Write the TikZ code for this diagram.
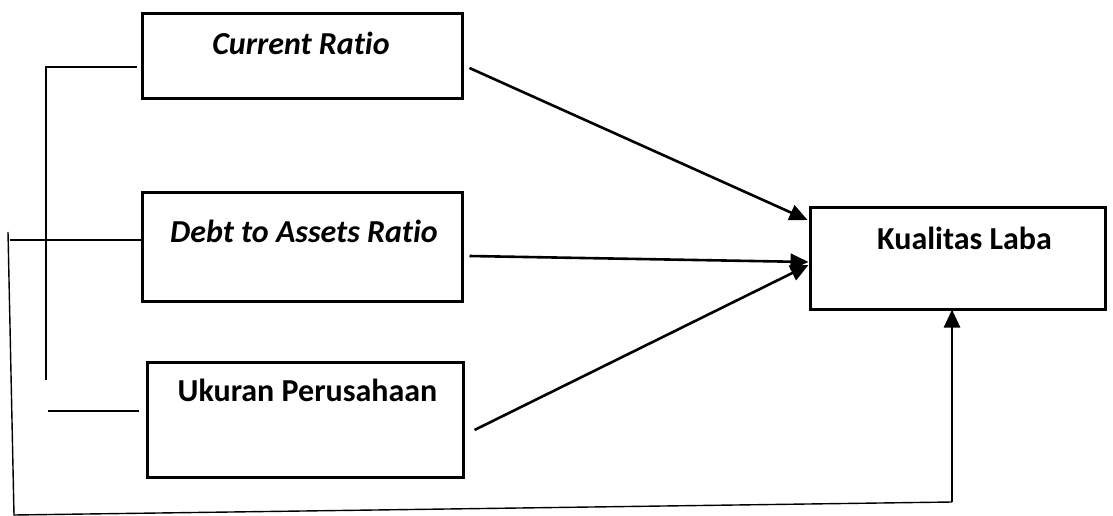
\documentclass[tikz,border=0pt]{standalone}
\usepackage{fontspec}
\setmainfont{Carlito}[Ligatures=NoCommon]
\usetikzlibrary{arrows.meta,calc}
\begin{document}
\begin{tikzpicture}[x=1pt,y=-1pt,
  box/.style={draw,line width=3pt,inner sep=0pt},
  lbl/.style={font=\fontsize{32}{38}\selectfont\bfseries,inner sep=0pt,anchor=base},
  thin/.style={line width=1.4pt},
  arr/.style={line width=2.6pt,-{Triangle[length=18pt,width=16pt]}}]
\useasboundingbox (0,0) rectangle (1113,516);
\node[box,minimum width=320pt,minimum height=85pt] (cr) at (302,56.5) {};
\node[box,minimum width=320pt,minimum height=109pt] (da) at (302,246.5) {};
\node[box,minimum width=316pt,minimum height=115pt] (up) at (305,419.5) {};
\node[box,minimum width=295pt,minimum height=102pt] (kl) at (957.5,258) {};
\node[lbl] (tcr) at (301,55) {\itshape Current Ratio};
\node[lbl] (tda) at (304,242) {\itshape Debt to Assets Ratio};
\node[lbl] (tup) at (307.5,401) {Ukuran Perusahaan};
\node[lbl] (tkl) at (964.5,249) {Kualitas Laba};
% bracket
\coordinate (b1) at ($(cr.west)+(-4,10.5)$);
\coordinate (b2) at (46,67);
\coordinate (b3) at (46,380);
\draw[thin] (b1) -- (b2) -- (b3);
\coordinate (h2) at (10,240);
\draw[thin] (h2) -- ($(da.west)+(0,-6.5)$);
\coordinate (h3) at (48,411);
\draw[thin] (h3) -- ($(up.west)+(-7,-8.5)$);
% outer
\coordinate (o1) at (8,232);
\coordinate (o2) at (14,515);
\coordinate (o3) at (952,502);
\draw[thin] (o1) -- (o2) -- (o3);
\draw[arr,shorten >=-1pt] (o3) -- ($(kl.south)+(-5.5,0)$);
% arrows
\draw[arr] ($(cr.east)+(6,11.5)$) -- ($(kl.west)+(-1,-38)$);
\draw[arr] ($(da.east)+(6,9.5)$) -- ($(kl.west)+(0,4)$);
\draw[arr] ($(up.east)+(10,10.5)$) -- ($(kl.west)+(0,7)$);
\end{tikzpicture}
\end{document}
